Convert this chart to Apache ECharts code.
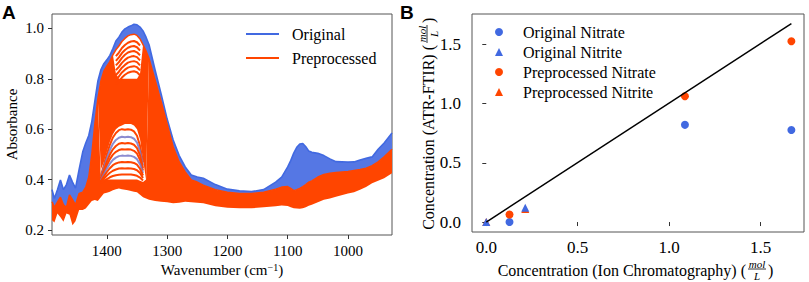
<!DOCTYPE html>
<html>
<head>
<meta charset="utf-8">
<script src="https://cdn.jsdelivr.net/npm/echarts@6/dist/echarts.min.js"></script>
<style>
  html, body { margin: 0; padding: 0; background: #fff; }
  #chart { width: 809px; height: 282px; }
</style>
</head>
<body>
<div id="chart"></div>
<script>
// ---------- panel A: spectra on one wavenumber grid ----------
var wavenumbers = [1491, 1487, 1482, 1477, 1472, 1467, 1462, 1457, 1452, 1446,
  1440, 1435, 1430, 1425, 1420, 1415, 1410, 1405, 1400, 1395,
  1390, 1385, 1380, 1375, 1370, 1365, 1360, 1355, 1350, 1345,
  1340, 1335, 1330, 1320, 1310, 1300, 1290, 1280, 1270, 1260,
  1250, 1240, 1220, 1200, 1180, 1160, 1140, 1120, 1110, 1100,
  1095, 1090, 1085, 1080, 1075, 1070, 1065, 1060, 1050, 1040,
  1030, 1020, 1000, 990, 980, 970, 960, 950, 940, 927];

// upper envelope of the original spectra
var originalTop = [0.36, 0.325, 0.36, 0.398, 0.36, 0.38, 0.418, 0.39, 0.366, 0.44,
  0.51, 0.545, 0.575, 0.63, 0.71, 0.79, 0.835, 0.86, 0.875, 0.893,
  0.92, 0.95, 0.965, 0.985, 0.998, 1.005, 1.01, 1.016, 1.014, 1.005,
  0.99, 0.965, 0.935, 0.835, 0.74, 0.64, 0.557, 0.495, 0.45, 0.418,
  0.41, 0.405, 0.38, 0.362, 0.355, 0.352, 0.36, 0.39, 0.41, 0.45,
  0.475, 0.505, 0.528, 0.541, 0.543, 0.53, 0.513, 0.508, 0.504, 0.495,
  0.482, 0.471, 0.469, 0.47, 0.478, 0.484, 0.49, 0.52, 0.545, 0.585];

// upper and lower envelope of the preprocessed spectra
var preprocTop = [0.312, 0.29, 0.31, 0.33, 0.30, 0.29, 0.339, 0.32, 0.30, 0.345,
  0.35, 0.37, 0.41, 0.50, 0.62, 0.72, 0.79, 0.83, 0.85, 0.868,
  0.895, 0.915, 0.93, 0.948, 0.96, 0.97, 0.975, 0.977, 0.972, 0.958,
  0.935, 0.91, 0.88, 0.795, 0.71, 0.62, 0.53, 0.47, 0.43, 0.398,
  0.39, 0.378, 0.36, 0.35, 0.345, 0.345, 0.35, 0.362, 0.37, 0.372,
  0.365, 0.356, 0.36, 0.365, 0.372, 0.38, 0.39, 0.395, 0.41, 0.42,
  0.425, 0.428, 0.432, 0.436, 0.44, 0.445, 0.455, 0.47, 0.49, 0.52];

var preprocBottom = [0.239, 0.23, 0.265, 0.25, 0.233, 0.265, 0.26, 0.219, 0.235, 0.279,
  0.279, 0.285, 0.30, 0.315, 0.319, 0.315, 0.33, 0.345, 0.348, 0.352,
  0.358, 0.362, 0.365, 0.362, 0.36, 0.358, 0.355, 0.352, 0.35, 0.34,
  0.33, 0.325, 0.32, 0.315, 0.312, 0.31, 0.306, 0.308, 0.312, 0.31,
  0.308, 0.306, 0.294, 0.288, 0.286, 0.286, 0.29, 0.294, 0.297, 0.295,
  0.29, 0.286, 0.285, 0.284, 0.286, 0.29, 0.296, 0.30, 0.31, 0.32,
  0.325, 0.332, 0.345, 0.35, 0.36, 0.37, 0.385, 0.395, 0.405, 0.425];

// sparse zone of low-peak spectra (white between the lines)
var lowGapWn = [1410, 1405, 1400, 1395, 1390, 1385, 1380, 1375, 1370, 1365, 1360, 1355, 1350, 1345, 1340, 1335];
var lowGapFrom = [0.40, 0.40, 0.40, 0.40, 0.40, 0.40, 0.40, 0.40, 0.40, 0.40, 0.40, 0.40, 0.40, 0.395, 0.39, 0.40];
var lowGapTo = [0.44, 0.47, 0.51, 0.55, 0.58, 0.60, 0.61, 0.615, 0.62, 0.62, 0.62, 0.615, 0.60, 0.56, 0.48, 0.40];

// sparse zone near the top of the main peak
var topGapWn = [1390, 1385, 1380, 1375, 1370, 1365, 1360, 1355, 1350, 1345, 1340];
var topGapFrom = [0.895, 0.82, 0.80, 0.80, 0.80, 0.80, 0.80, 0.80, 0.80, 0.82, 0.935];

// individual spectra that show inside the sparse zones
var lowLinesWn = [1410, 1405, 1400, 1395, 1390, 1385, 1380, 1375, 1370, 1365, 1360, 1355, 1350, 1345, 1340];
var lowLines = [
  [0.413, 0.457, 0.501, 0.538, 0.567, 0.585, 0.596, 0.60, 0.598, 0.60, 0.598, 0.591, 0.574, 0.534, 0.468],
  [0.409, 0.447, 0.485, 0.517, 0.542, 0.557, 0.566, 0.57, 0.568, 0.57, 0.568, 0.562, 0.547, 0.513, 0.456],
  [0.405, 0.438, 0.471, 0.499, 0.52, 0.533, 0.542, 0.545, 0.543, 0.545, 0.543, 0.538, 0.525, 0.496, 0.446],
  [0.401, 0.429, 0.457, 0.481, 0.499, 0.51, 0.517, 0.52, 0.519, 0.52, 0.519, 0.514, 0.503, 0.478, 0.436],
  [0.397, 0.42, 0.443, 0.463, 0.478, 0.487, 0.493, 0.495, 0.494, 0.495, 0.494, 0.49, 0.481, 0.461, 0.426],
  [0.394, 0.412, 0.43, 0.445, 0.457, 0.464, 0.468, 0.47, 0.469, 0.47, 0.469, 0.466, 0.459, 0.443, 0.416],
  [0.39, 0.403, 0.416, 0.427, 0.435, 0.44, 0.444, 0.445, 0.444, 0.445, 0.444, 0.442, 0.437, 0.426, 0.406],
  [0.386, 0.394, 0.402, 0.409, 0.414, 0.417, 0.419, 0.42, 0.42, 0.42, 0.42, 0.418, 0.415, 0.408, 0.396]
];
var stripeWn = [1385, 1380, 1375, 1370, 1365, 1360, 1355, 1350, 1345];
var stripeLines = [
  [0.890, 0.904, 0.922, 0.934, 0.943, 0.948, 0.95, 0.945, 0.932],
  [0.871, 0.885, 0.902, 0.914, 0.923, 0.928, 0.93, 0.925, 0.912],
  [0.853, 0.866, 0.883, 0.895, 0.904, 0.908, 0.91, 0.905, 0.893],
  [0.834, 0.847, 0.863, 0.875, 0.884, 0.888, 0.89, 0.886, 0.873],
  [0.815, 0.828, 0.844, 0.855, 0.864, 0.868, 0.87, 0.866, 0.853],
  [0.796, 0.809, 0.825, 0.836, 0.844, 0.848, 0.85, 0.846, 0.834],
  [0.778, 0.790, 0.805, 0.816, 0.824, 0.828, 0.83, 0.826, 0.814]
];
var wnTicks = [1000, 1100, 1200, 1300, 1400];
var absTicks = [0.2, 0.4, 0.6, 0.8, 1.0];

// ---------- panel B: concentrations (mol/L) ----------
var origNitrateIC = [0.127, 1.086, 1.668];
var origNitrateFTIR = [0.0, 0.82, 0.777];
var origNitriteIC = [0.0, 0.213];
var origNitriteFTIR = [0.0, 0.12];
var preNitrateIC = [0.127, 1.086, 1.668];
var preNitrateFTIR = [0.064, 1.061, 1.525];
var preNitriteIC = [0.0, 0.213];
var preNitriteFTIR = [0.0, 0.11];
var idealLineIC = [0.0, 1.668];
var idealLineFTIR = [0.0, 1.674];
var concTicks = [0.0, 0.5, 1.0, 1.5];

var BLUE = '#4169e1';
var ORANGE = '#ff4500';
var SERIF = '"Liberation Serif", "Times New Roman", serif';

function pairs(xs, ys) {
  return xs.map(function (x, i) { return [x, ys[i]]; });
}

// copy of the envelope with a sparse zone cut in
function withZone(base, zoneWn, zoneVals) {
  var out = base.slice();
  zoneWn.forEach(function (w, k) { out[wavenumbers.indexOf(w)] = zoneVals[k]; });
  return out;
}
var lowerSolidTop = withZone(preprocTop, lowGapWn, lowGapFrom);
var middleSolidBottom = withZone(preprocTop, lowGapWn, lowGapTo);
var middleSolidTop = withZone(preprocTop, topGapWn, topGapFrom);

function band(lower, upper, color) {
  return {
    type: 'custom', xAxisIndex: 0, yAxisIndex: 0, silent: true,
    data: [[wavenumbers[0], lower[0]]],
    renderItem: function (params, api) {
      var pts = [];
      for (var i = 0; i < wavenumbers.length; i++) pts.push(api.coord([wavenumbers[i], upper[i]]));
      for (var j = wavenumbers.length - 1; j >= 0; j--) pts.push(api.coord([wavenumbers[j], lower[j]]));
      return { type: 'polygon', shape: { points: pts }, style: { fill: color } };
    }
  };
}

function specLine(name, xs, ys, color, width) {
  return {
    name: name, type: 'line', xAxisIndex: 0, yAxisIndex: 0,
    data: pairs(xs, ys), symbol: 'none', silent: true,
    lineStyle: { color: color, width: width }
  };
}

var series = [
  band(preprocTop, originalTop, '#5577e4'),
  specLine('Original', wavenumbers, originalTop, BLUE, 1.6),
  band(preprocBottom, lowerSolidTop, ORANGE),
  band(middleSolidBottom, middleSolidTop, ORANGE)
];
lowLines.forEach(function (ys, k) {
  var c = (k === 1 || k === 4) ? 'rgba(120,120,200,0.85)' : ORANGE;
  series.push(specLine('low' + k, lowLinesWn, ys, c, 2));
});
stripeLines.forEach(function (ys, k) {
  series.push(specLine('stripe' + k, stripeWn, ys, ORANGE, 2));
});
series.push(specLine('Preprocessed', wavenumbers, preprocTop, ORANGE, 1.5));

// panel B
series.push({
  name: 'ideal', type: 'line', xAxisIndex: 1, yAxisIndex: 1, silent: true,
  data: pairs(idealLineIC, idealLineFTIR), symbol: 'none',
  lineStyle: { color: '#000', width: 1.5 }
});
function scatter(name, xs, ys, color, symbol) {
  return {
    name: name, type: 'scatter', xAxisIndex: 1, yAxisIndex: 1,
    data: pairs(xs, ys), symbol: symbol, symbolSize: 8,
    itemStyle: { color: color, opacity: 1 }
  };
}
series.push(scatter('Original Nitrate', origNitrateIC, origNitrateFTIR, BLUE, 'circle'));
series.push(scatter('Preprocessed Nitrate', preNitrateIC, preNitrateFTIR, ORANGE, 'circle'));
series.push(scatter('Preprocessed Nitrite', preNitriteIC, preNitriteFTIR, ORANGE, 'triangle'));
series.push(scatter('Original Nitrite', origNitriteIC, origNitriteFTIR, BLUE, 'triangle'));

function tickAxis(opts) {
  return Object.assign({
    type: 'value',
    axisLine: { show: false },
    splitLine: { show: false },
    axisTick: { show: true, length: 4, lineStyle: { color: '#333', width: 1 }, customValues: opts.ticks },
    axisLabel: {
      customValues: opts.ticks, color: '#000', fontFamily: SERIF, fontSize: opts.fontSize, margin: opts.margin,
      formatter: opts.fmt
    }
  }, opts.extra);
}

var fracText = function (x, y, t) {
  return { type: 'text', x: x, y: y, style: { text: t, fontFamily: SERIF, fontStyle: 'italic', fontSize: 11, fill: '#000', align: 'center', verticalAlign: 'middle' } };
};
function fracLabel(main, gx, gy, rot, endX) {
  return {
    type: 'group', x: gx, y: gy, rotation: rot, silent: true,
    children: [
      { type: 'text', x: endX, y: 0, style: { text: main, fontFamily: SERIF, fontSize: 16, fill: '#000', align: 'right', verticalAlign: 'middle' } },
      fracText(endX + 11, -6, 'mol'),
      { type: 'line', shape: { x1: endX + 2, y1: -1, x2: endX + 20, y2: -1 }, style: { stroke: '#000', lineWidth: 0.8 } },
      fracText(endX + 11, 6, 'L'),
      { type: 'text', x: endX + 22, y: 0, style: { text: ')', fontFamily: SERIF, fontSize: 16, fill: '#000', align: 'left', verticalAlign: 'middle' } }
    ]
  };
}

var chart = echarts.init(document.getElementById('chart'), null, { renderer: 'svg' });
chart.setOption({
  animation: false,
  backgroundColor: '#fff',
  grid: [
    { left: 52, top: 14, width: 340, height: 221, show: true, borderColor: '#555', borderWidth: 1, backgroundColor: 'transparent', outerBoundsMode: 'none' },
    { left: 472, top: 14, width: 332, height: 218, show: true, borderColor: '#555', borderWidth: 1, backgroundColor: 'transparent', outerBoundsMode: 'none' }
  ],
  xAxis: [
    tickAxis({
      ticks: wnTicks, fontSize: 15, margin: 8, fmt: function (v) { return String(v); },
      extra: {
        gridIndex: 0, inverse: true, min: 927, max: 1491,
        name: 'Wavenumber (cm{sup|\u22121})', nameLocation: 'middle', nameGap: 27,
        nameTextStyle: {
          fontFamily: SERIF, fontSize: 15, color: '#000',
          rich: { sup: { fontFamily: SERIF, fontSize: 10, color: '#000', verticalAlign: 'top' } }
        }
      }
    }),
    tickAxis({
      ticks: concTicks, fontSize: 17, margin: 7, fmt: function (v) { return v.toFixed(1); },
      extra: { gridIndex: 1, min: -0.078, max: 1.737 }
    })
  ],
  yAxis: [
    tickAxis({
      ticks: absTicks, fontSize: 15, margin: 8, fmt: function (v) { return v.toFixed(1); },
      extra: {
        gridIndex: 0, min: 0.18, max: 1.057,
        name: 'Absorbance', nameLocation: 'middle', nameGap: 33,
        nameTextStyle: { fontFamily: SERIF, fontSize: 15, color: '#000' }
      }
    }),
    tickAxis({
      ticks: concTicks, fontSize: 17, margin: 11, fmt: function (v) { return v.toFixed(1); },
      extra: { gridIndex: 1, min: -0.084, max: 1.755 }
    })
  ],
  legend: [
    {
      left: 241, top: 21, orient: 'vertical', icon: 'rect', itemWidth: 33, itemHeight: 2, itemGap: 8,
      selectedMode: false,
      data: [
        { name: 'Original', itemStyle: { color: BLUE } },
        { name: 'Preprocessed', itemStyle: { color: ORANGE } }
      ],
      textStyle: { fontFamily: SERIF, fontSize: 16, color: '#000', lineHeight: 16, padding: [0, 0, 0, 8] }
    },
    {
      left: 490, top: 19, orient: 'vertical', itemWidth: 8, itemHeight: 8, itemGap: 4,
      selectedMode: false,
      data: ['Original Nitrate', 'Original Nitrite', 'Preprocessed Nitrate', 'Preprocessed Nitrite'],
      textStyle: { fontFamily: SERIF, fontSize: 16, color: '#000', lineHeight: 16, padding: [0, 0, 0, 15] }
    }
  ],
  graphic: [
    { type: 'text', left: 2, top: 3, style: { text: 'A', fontFamily: '"Liberation Sans", Arial, sans-serif', fontWeight: 'bold', fontSize: 19, fill: '#000' } },
    { type: 'text', left: 400, top: 3, style: { text: 'B', fontFamily: '"Liberation Sans", Arial, sans-serif', fontWeight: 'bold', fontSize: 19, fill: '#000' } },
    fracLabel('Concentration (Ion Chromatography) (', 638, 270, 0, 108),
    fracLabel('Concentration (ATR-FTIR) (', 428, 131, Math.PI / 2, 86)
  ],
  series: series
});
</script>
</body>
</html>
